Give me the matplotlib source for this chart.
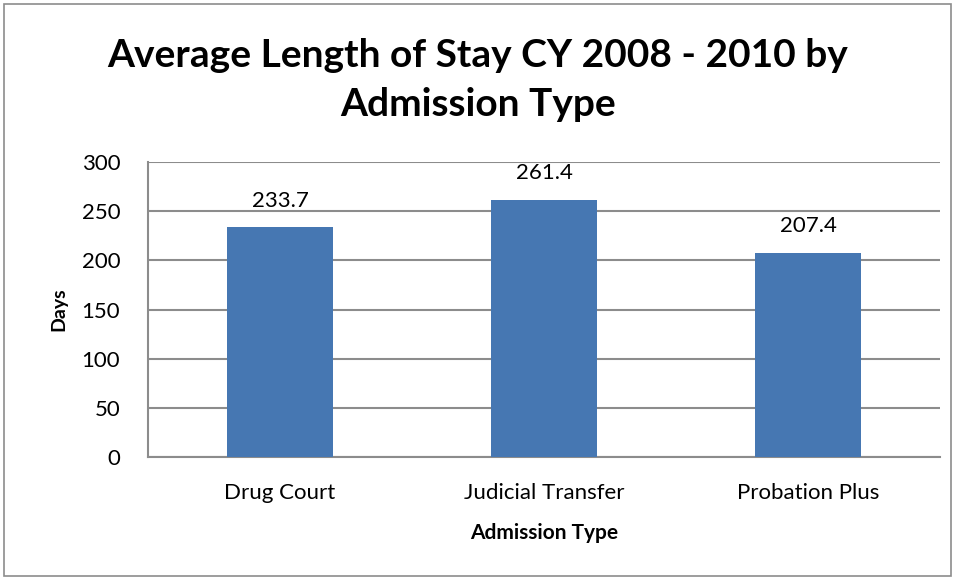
import matplotlib
matplotlib.use("Agg")
import matplotlib.pyplot as plt
from matplotlib.patches import Rectangle

# data #########################################################################
categories = ["Drug Court", "Judicial Transfer", "Probation Plus"]
days = [233.7, 261.4, 207.4]
y_ticks = [0, 50, 100, 150, 200, 250, 300]

plt.rcParams['font.family'] = ['Lato', 'DejaVu Sans']

# init #########################################################################
fig = plt.figure(figsize=(9.58, 5.79), dpi=100)
ax = fig.add_axes([148 / 958, 1 - 457 / 579, 792 / 958, 295 / 579])

# outer frame
fig.patches.append(Rectangle((4 / 958, 3 / 579), 947 / 958, 572 / 579,
                             transform=fig.transFigure, fill=False,
                             edgecolor='#8c8c8c', linewidth=1.2))

# bars #########################################################################
x = list(range(len(categories)))
ax.bar(x, days, width=0.4, color='#4677B2', zorder=3)
for xi, v in zip(x, days):
    ax.annotate(f"{v:.1f}", (xi, v), xytext=(0, 12), textcoords='offset points',
                ha='center', va='bottom', fontsize=16, color='black')

# axis #########################################################################
ax.set_xlim(-0.5, 2.5)
ax.set_ylim(0, 300)
ax.set_yticks(y_ticks)
ax.set_xticks(x)
ax.set_xticklabels(categories)
ax.tick_params(axis='both', length=0, labelsize=16)
ax.tick_params(axis='x', pad=19)
ax.tick_params(axis='y', pad=20)
ax.grid(axis='y', color='#8c8c8c', linewidth=1.5, zorder=0)
for s in ['top', 'right']:
    ax.spines[s].set_visible(False)
ax.spines['left'].set_color('#8c8c8c')
ax.spines['bottom'].set_color('#8c8c8c')
ax.spines['left'].set_linewidth(1.5)
ax.spines['bottom'].set_linewidth(1.5)

ax.set_xlabel("Admission Type", fontsize=15, fontweight='bold', labelpad=14)
ax.set_ylabel("Days", fontsize=14, fontweight='bold', labelpad=10)

fig.text(0.499, 1 - 80 / 579, "Average Length of Stay CY 2008 - 2010 by\nAdmission Type",
         ha='center', va='center', fontsize=28, fontweight='bold', linespacing=1.45)

fig.savefig("out.png", dpi=100)
